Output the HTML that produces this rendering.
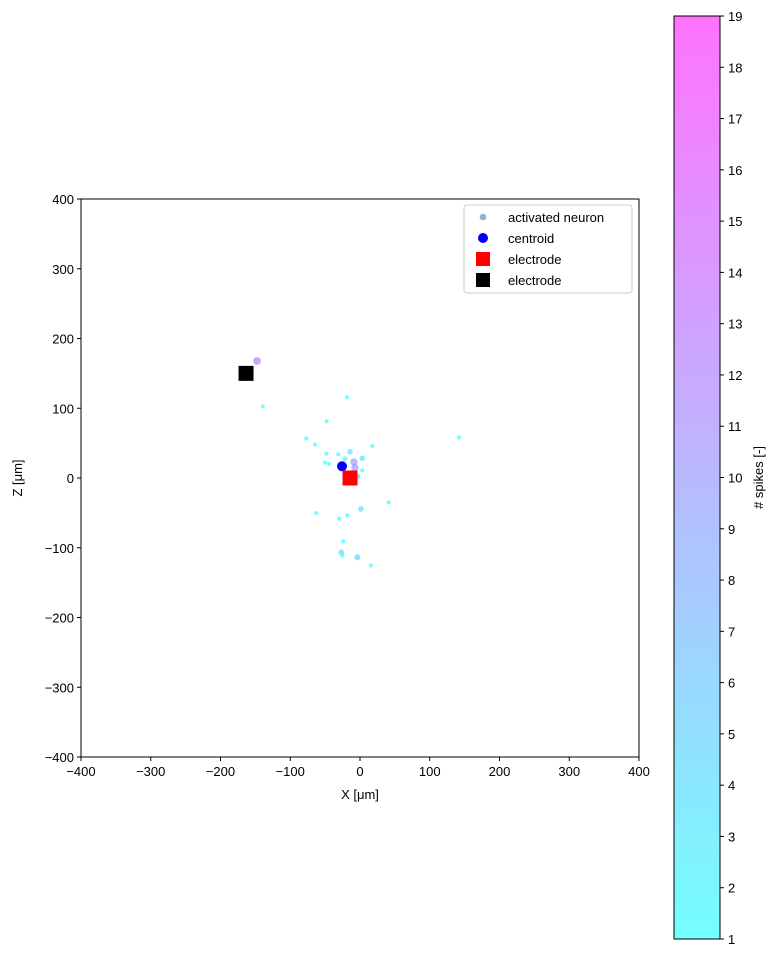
<!DOCTYPE html>
<html><head><meta charset="utf-8"><style>
html,body{margin:0;padding:0;background:#fff;}
svg{display:block;font-family:"Liberation Sans","DejaVu Sans",sans-serif;}
</style></head><body>
<svg id="chart" width="777" height="958" viewBox="0 0 777 958" xmlns="http://www.w3.org/2000/svg">
<defs>
<linearGradient id="cool" x1="0" y1="1" x2="0" y2="0">
<stop offset="0" stop-color="rgb(0,255,255)" stop-opacity="0.55"/>
<stop offset="1" stop-color="rgb(255,0,255)" stop-opacity="0.55"/>
</linearGradient>
</defs>
<g id="plot"></g>
</svg>
<script>
const neuronX = [-147.6,-139.4,-18.6,-47.8,-77.0,-64.5,17.6,141.9,-14.3,-48.3,-31.1,3.3,-21.5,-50.2,-44.0,-8.6,-7.2,3.3,-3.8,41.1,1.4,-62.7,-18.2,-30.1,-24.0,-26.8,-25.3,-3.8,15.3];
const neuronZ = [167.7,102.8,115.7,81.3,56.5,48.0,46.0,58.0,37.7,34.8,34.0,28.2,27.7,22.0,20.5,22.9,14.8,11.0,1.9,-35.0,-44.4,-50.2,-53.5,-58.4,-91.0,-106.4,-111.2,-113.6,-125.5];
const neuronSpikes = [12,1,1,1,1,1,1,1,4,1,1,4,2,1,1,10,10,1,6,1,4,1,1,1,1,4,1,5,1];
const centroid = [-25.8,16.8];
const electrodeRed = [-14.3,0];
const electrodeBlack = [-163.4,150];
const axisTicks = [-400,-300,-200,-100,0,100,200,300,400];
const cbarTicks = [1,2,3,4,5,6,7,8,9,10,11,12,13,14,15,16,17,18,19];

const NS="http://www.w3.org/2000/svg";
const g=document.getElementById('plot');
const L=81,R=639,T=199,B=757;
const sx=v=>L+(v+400)/800*(R-L);
const sy=v=>B-(v+400)/800*(B-T);
const CB={l:674,r:720,t:16,b:939,min:1,max:19};
const cy=v=>CB.b-(v-CB.min)/(CB.max-CB.min)*(CB.b-CB.t);
function el(tag,attrs,parent){const e=document.createElementNS(NS,tag);for(const k in attrs)e.setAttribute(k,attrs[k]);(parent||g).appendChild(e);return e;}
function txt(x,y,s,anchor,size,parent){const t=el('text',{x:x,y:y,'text-anchor':anchor,'font-size':size||13,fill:'#000'},parent);t.textContent=s;return t;}
function cool(v){const f=(v-CB.min)/(CB.max-CB.min);return `rgba(${Math.round(255*f)},${Math.round(255*(1-f))},255,0.55)`;}

const frame=el('rect',{x:L,y:T,width:R-L,height:B-T,fill:'none',stroke:'#000','stroke-width':1});



axisTicks.forEach(v=>{
  const tx=el('line',{x1:sx(v),x2:sx(v),y1:B,y2:B+4,stroke:'#000'});
  
  
  const lx=txt(sx(v),B+19,String(v).replace('-','\u2212'),'middle');
  
  
  const ty=el('line',{x1:L-4,x2:L,y1:sy(v),y2:sy(v),stroke:'#000'});
  
  
  const ly=txt(L-7,sy(v)+5,String(v).replace('-','\u2212'),'end');
  
  
});
const xt=txt((L+R)/2,799,'X [\u03bcm]','middle');


const yt=txt(0,0,'Z [\u03bcm]','middle');
yt.setAttribute('transform',`translate(22,${(T+B)/2}) rotate(-90)`);



neuronX.forEach((x,i)=>{
  const s=neuronSpikes[i];
  const c=el('circle',{cx:sx(x),cy:sy(neuronZ[i]),r:1.3+Math.sqrt(s)*0.75,fill:cool(s)});
  
  
});
const cen=el('circle',{cx:sx(centroid[0]),cy:sy(centroid[1]),r:5,fill:'#0000ff'});


const er=el('rect',{x:sx(electrodeRed[0])-7.5,y:sy(electrodeRed[1])-7.5,width:15,height:15,fill:'#ff0000'});


const eb=el('rect',{x:sx(electrodeBlack[0])-7.5,y:sy(electrodeBlack[1])-7.5,width:15,height:15,fill:'#000'});



const lg=el('g',{});


el('rect',{x:464,y:205,width:168,height:88,rx:3,fill:'#fff','fill-opacity':0.8,stroke:'#ccc'},lg);
const items=[['activated neuron','n'],['centroid','c'],['electrode','r'],['electrode','b']];
items.forEach((it,i)=>{
  const y=217+i*21;
  const row=el('g',{},lg);
  
  
  if(it[1]==='n')el('circle',{cx:483,cy:y,r:3.3,fill:'rgba(31,119,180,0.55)'},row);
  if(it[1]==='c')el('circle',{cx:483,cy:y,r:5,fill:'#0000ff'},row);
  if(it[1]==='r')el('rect',{x:476,y:y-7,width:14,height:14,fill:'#ff0000'},row);
  if(it[1]==='b')el('rect',{x:476,y:y-7,width:14,height:14,fill:'#000'},row);
  txt(508,y+5,it[0],'start',13,row);
});

const cb=el('rect',{x:CB.l,y:CB.t,width:CB.r-CB.l,height:CB.b-CB.t,fill:'url(#cool)',stroke:'#000'});


cbarTicks.forEach(v=>{
  const t=el('line',{x1:CB.r,x2:CB.r+4,y1:cy(v),y2:cy(v),stroke:'#000'});
  
  
  const l=txt(CB.r+8,cy(v)+5,String(v),'start');
  
  
});
const ct=txt(0,0,'# spikes [-]','middle');
ct.setAttribute('transform',`translate(763,${(CB.t+CB.b)/2}) rotate(-90)`);


</script>
</body></html>
